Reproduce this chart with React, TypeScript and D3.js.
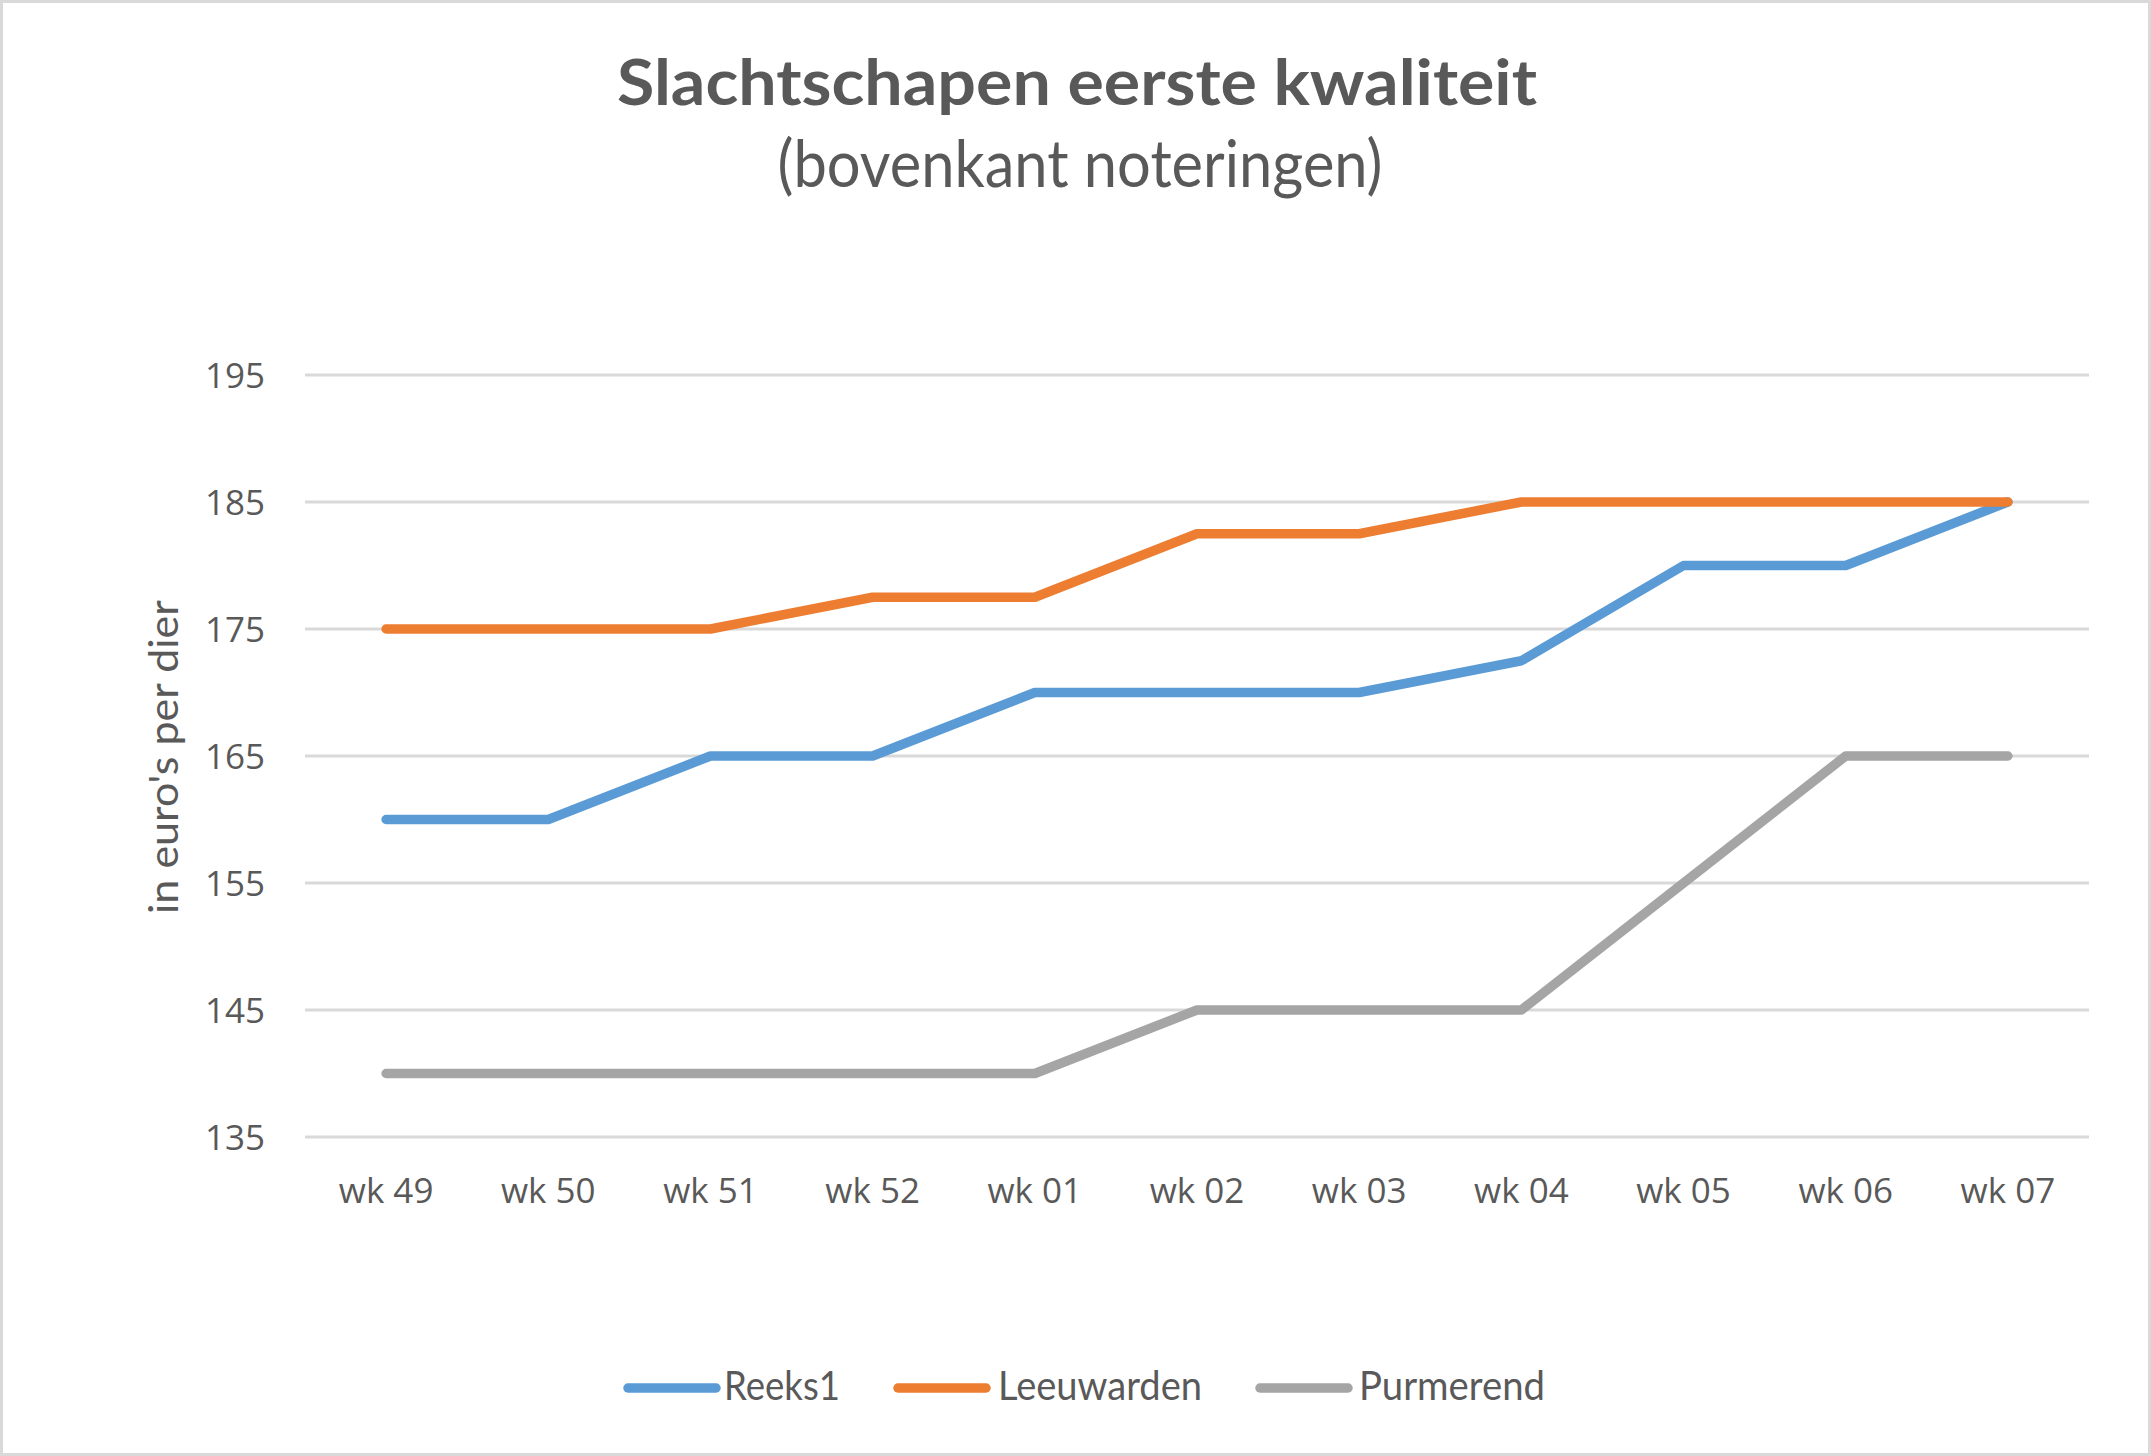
import React from 'react'
import * as d3 from 'd3'

const weeks = ['wk 49', 'wk 50', 'wk 51', 'wk 52', 'wk 01', 'wk 02', 'wk 03', 'wk 04', 'wk 05', 'wk 06', 'wk 07']
const reeks1 = [160, 160, 165, 165, 170, 170, 170, 172.5, 180, 180, 185]
const leeuwarden = [175, 175, 175, 177.5, 177.5, 182.5, 182.5, 185, 185, 185, 185]
const purmerend = [140, 140, 140, 140, 140, 145, 145, 145, 155, 165, 165]
const yTicks = [135, 145, 155, 165, 175, 185, 195]

const series = [
  { name: 'Reeks1', values: reeks1, color: '#5B9BD5' },
  { name: 'Leeuwarden', values: leeuwarden, color: '#ED7D31' },
  { name: 'Purmerend', values: purmerend, color: '#A5A5A5' },
]

const W = 2151
const H = 1456
const TXT = '#595959'
const CAL = 'Lato, "Open Sans", sans-serif'
const SEG = '"Open Sans", "Noto Sans", sans-serif'

export default function App() {
  // plot area
  const x = d3.scaleBand<string>().domain(weeks).range([305, 2089]).padding(0)
  const y = d3.scaleLinear().domain([135, 195]).range([1137, 375])
  const cx = (w: string) => (x(w) ?? 0) + x.bandwidth() / 2

  const line = d3.line<number>()
    .x((_, i) => cx(weeks[i]))
    .y(d => y(d))

  // legend layout (line start, text start, text width)
  const legend = [
    { lx: 624, tx: 724, tw: 116 },
    { lx: 894, tx: 998, tw: 204 },
    { lx: 1256, tx: 1359, tw: 186 },
  ]

  return (
    <div style={{ position: 'absolute', left: 0, top: 0 }}>
      <svg width={W} height={H} style={{ display: 'block', background: '#fff' }}>
        <rect x={1.5} y={1.5} width={W - 3} height={H - 3} fill="#fff" stroke="#D9D9D9" strokeWidth={3} />

        <text x={1077} y={105} textAnchor="middle" fill={TXT} fontFamily={CAL} fontWeight={700}
          fontSize={64} textLength={920} lengthAdjust="spacingAndGlyphs">
          Slachtschapen eerste kwaliteit
        </text>
        <text x={1080} y={187} textAnchor="middle" fill={TXT} fontFamily={CAL}
          fontSize={65} textLength={605} lengthAdjust="spacingAndGlyphs">
          (bovenkant noteringen)
        </text>

        {yTicks.map(t => (
          <g key={t}>
            <line x1={305} x2={2089} y1={y(t)} y2={y(t)} stroke="#D9D9D9" strokeWidth={3} />
            <text x={265} y={y(t)} dy="0.36em" textAnchor="end" fill={TXT} fontFamily={SEG} fontSize={35}>
              {t}
            </text>
          </g>
        ))}

        <text transform="translate(178,757) rotate(-90)" textAnchor="middle" fill={TXT} fontFamily={CAL}
          fontSize={40} textLength={314} lengthAdjust="spacingAndGlyphs">
          in euro's per dier
        </text>

        {weeks.map(w => (
          <text key={w} x={cx(w)} y={1203} textAnchor="middle" fill={TXT} fontFamily={SEG} fontSize={35}>
            {w}
          </text>
        ))}

        {series.map(s => (
          <path key={s.name} d={line(s.values) ?? ''} fill="none" stroke={s.color} strokeWidth={9.5}
            strokeLinejoin="round" strokeLinecap="round" />
        ))}

        {series.map((s, i) => (
          <g key={s.name}>
            <line x1={legend[i].lx + 4} x2={legend[i].lx + 92} y1={1388} y2={1388} stroke={s.color}
              strokeWidth={9.5} strokeLinecap="round" />
            <text x={legend[i].tx} y={1400} fill={TXT} fontFamily={CAL} fontSize={40}
              textLength={legend[i].tw} lengthAdjust="spacingAndGlyphs">
              {s.name}
            </text>
          </g>
        ))}
      </svg>
    </div>
  )
}
